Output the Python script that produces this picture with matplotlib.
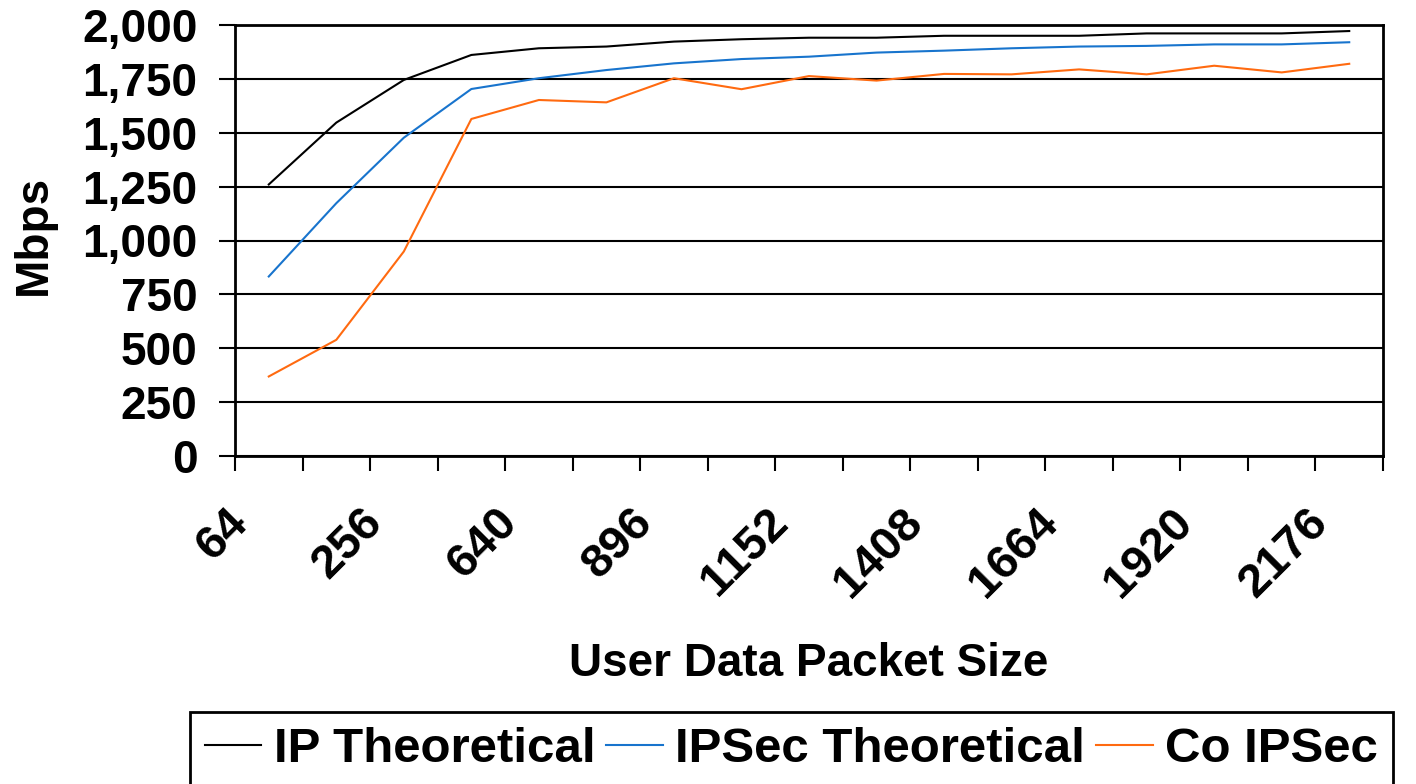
import matplotlib
matplotlib.use('Agg')
import matplotlib.pyplot as plt
import matplotlib.transforms as mtrans
from matplotlib.ticker import FuncFormatter, MultipleLocator
import numpy as np

packet_sizes = [64, 128, 256, 512, 640, 768, 896, 1024, 1152, 1280, 1408,
                1536, 1664, 1792, 1920, 2048, 2176]
ip_theoretical = [1260, 1547, 1745, 1861, 1892, 1900, 1923, 1934, 1941, 1941,
                  1950, 1950, 1950, 1961, 1961, 1961, 1972]
ipsec_theoretical = [833, 1173, 1477, 1703, 1753, 1791, 1822, 1842, 1853, 1872,
                     1881, 1892, 1900, 1903, 1910, 1910, 1920]
co_ipsec = [369, 539, 949, 1564, 1652, 1641, 1753, 1702, 1763, 1742, 1773,
            1771, 1794, 1771, 1811, 1780, 1820]

plt.rcParams['font.family'] = ['Liberation Sans', 'DejaVu Sans']
plt.rcParams['font.weight'] = 'bold'

W, H = 1416, 784
fig = plt.figure(figsize=(W / 100, H / 100), dpi=100)
ax = fig.add_axes([235 / W, 1 - 456 / H, 1148 / W, 431 / H])

n = len(packet_sizes)
x = np.arange(n)
ax.plot(x, ip_theoretical, color='black', lw=1.5, label='IP Theoretical')
ax.plot(x, ipsec_theoretical, color='#1874CD', lw=1.5, label='IPSec Theoretical')
ax.plot(x, co_ipsec, color='#FF6A10', lw=1.5, label='Co IPSec')

ax.set_xlim(-0.5, n - 0.5)
ax.set_ylim(0, 2000)
ax.yaxis.set_major_locator(MultipleLocator(250))
ax.yaxis.set_major_formatter(FuncFormatter(lambda v, p: f'{int(v):,}'))
ax.grid(axis='y', color='black', lw=1.5)
ax.set_axisbelow(True)

ax.set_xticks(np.arange(-0.5, n, 1))
ax.set_xticklabels([])
ax.tick_params(axis='x', length=11, width=1.5, direction='out')
ax.tick_params(axis='y', length=11.5, width=1.5, direction='out', pad=15.5,
               labelsize=33)
for sp in ax.spines.values():
    sp.set_linewidth(2)
    sp.set_color('black')

offset = mtrans.ScaledTranslation(-28 / 100, -60 / 100, fig.dpi_scale_trans)
trans = ax.get_xaxis_transform() + offset
for i, s in enumerate(packet_sizes):
    if i % 2 == 0:
        ax.text(i, 0, str(s), transform=trans, rotation=45, ha='right',
                va='center', rotation_mode='anchor', fontsize=34,
                fontweight='bold')

ax.set_xlabel('User Data Packet Size', fontsize=33, fontweight='bold',
              va='center')
ax.xaxis.set_label_coords(0.5, (456 - 664) / 431)
ax.set_ylabel('Mbps', fontsize=33, fontweight='bold', va='center')
ax.yaxis.set_label_coords((34 - 235) / 1148, 0.512)

leg = fig.legend(loc='upper left', bbox_to_anchor=(190 / W, 1 - 712 / H),
                 ncol=3, frameon=True, fancybox=False, edgecolor='black',
                 fontsize=35.5, handlelength=1.15, handletextpad=0.25,
                 columnspacing=0.22, borderpad=0.3, borderaxespad=0,
                 framealpha=1)
leg.get_frame().set_linewidth(2)

fig.savefig('out.png', dpi=100)
